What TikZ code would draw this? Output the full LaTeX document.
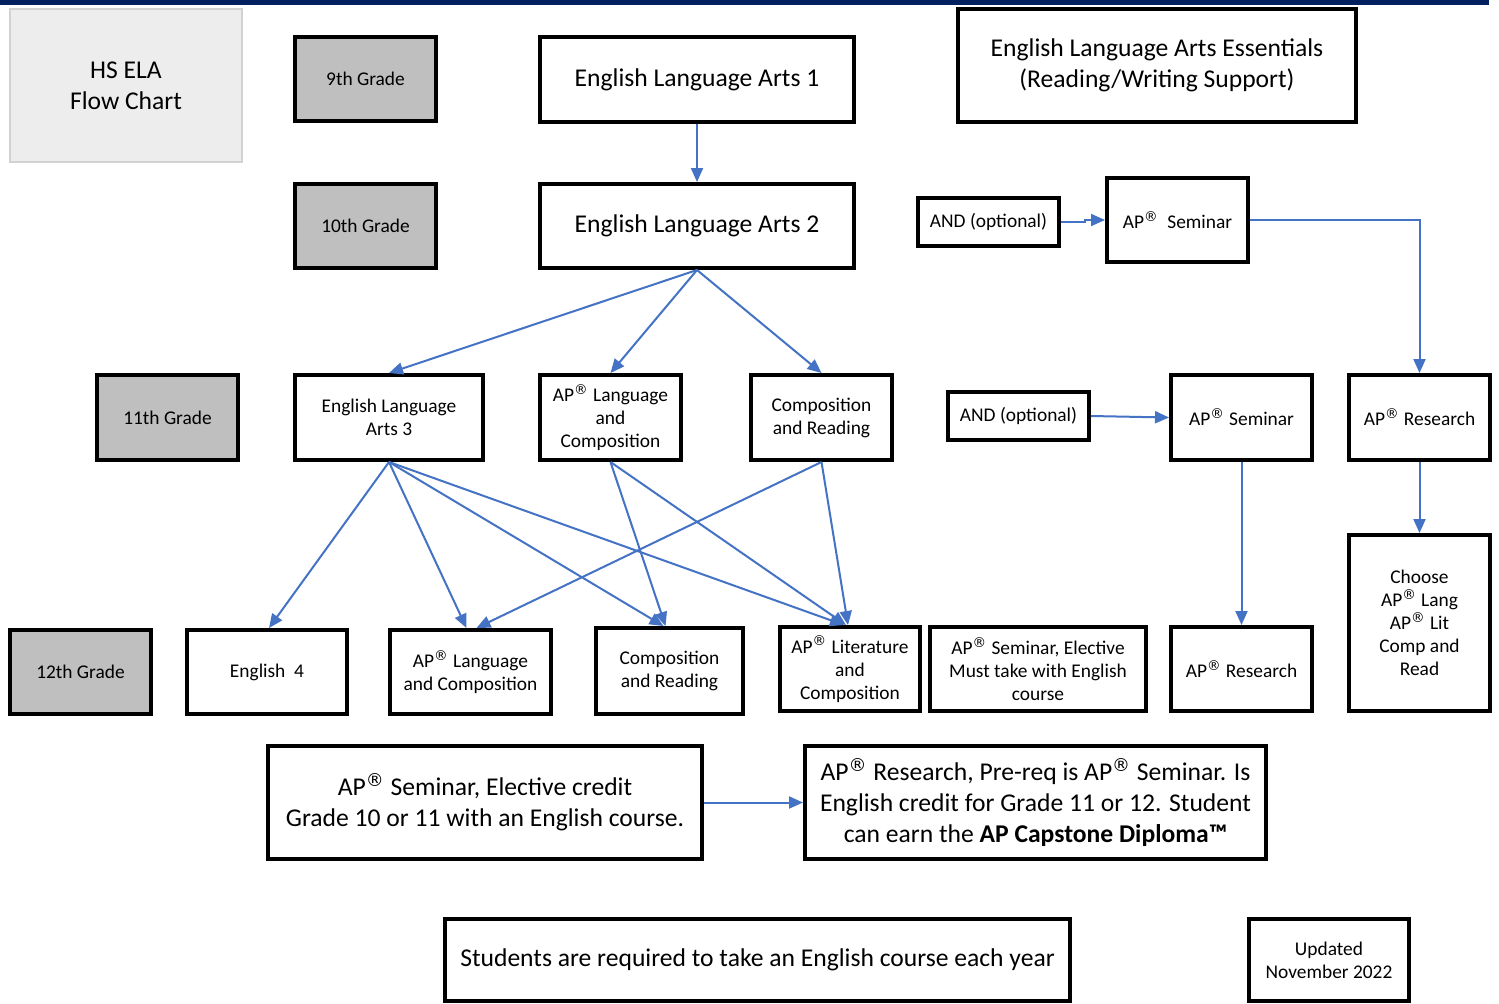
\documentclass[tikz,border=0pt]{standalone}
\usepackage{fontspec}
\setmainfont{Carlito}
\newfontfamily\regfont{DejaVu Sans}
\usetikzlibrary{arrows.meta,calc}
\definecolor{arrowblue}{RGB}{68,114,196}
\definecolor{topnavy}{RGB}{0,32,96}
\definecolor{gradegray}{RGB}{191,191,191}
\definecolor{titlegray}{RGB}{237,237,237}
\definecolor{titleedge}{RGB}{210,210,210}
\newcommand{\reg}{\textsuperscript{\regfont ®}}
\newcommand{\mybox}[7]{\node[#6, minimum width={(#4-#2)*0.5pt}, minimum height={(#5-#3)*0.5pt}] (#1) at ({(#2+#4)/2},{(#3+#5)/2}) {#7};}
\begin{document}
\begin{tikzpicture}[x=0.5pt,y=-0.5pt,
  box/.style={draw=black, line width=2pt, fill=white, inner sep=1pt, align=center},
  gradebox/.style={box, fill=gradegray},
  big/.style={font=\fontsize{12.8}{15.5}\selectfont},
  small/.style={font=\fontsize{9.7}{11.5}\selectfont},
  arr/.style={draw=arrowblue, line width=1pt, -{Triangle[length=7pt,width=6pt]}}]
\useasboundingbox[fill=white] (0,0) rectangle (1499,1003);
\fill[topnavy] (0,0) rectangle (1489,5);

\mybox{title}{10}{9}{242}{162}{draw=titleedge, line width=0.6pt, fill=titlegray, align=center, font=\fontsize{12.8}{15.5}\selectfont}{HS ELA\\Flow Chart}
\mybox{g9}{295}{37}{436}{121}{gradebox, small}{9th Grade}
\mybox{ela1}{540}{37}{854}{122}{box, big}{English Language Arts 1}
\mybox{ess}{958}{9}{1356}{122}{box, big}{English Language Arts Essentials\\(Reading/Writing Support)}

\mybox{g10}{295}{184}{436}{268}{gradebox, small}{10th Grade}
\mybox{ela2}{540}{184}{854}{268}{box, big}{English Language Arts 2}
\mybox{and1}{918}{198}{1059}{246}{box, small}{AND (optional)}
\mybox{sem1}{1107}{178}{1248}{262}{box, small}{AP\reg\ \ Seminar}

\mybox{g11}{97}{375}{238}{460}{gradebox, small}{11th Grade}
\mybox{ela3}{295}{375}{483}{460}{box, small}{English Language\\Arts 3}
\mybox{lang11}{540}{375}{681}{460}{box, small}{AP\reg\ Language\\and\\Composition}
\mybox{comp11}{751}{375}{892}{460}{box, small}{Composition\\and Reading}
\mybox{and2}{948}{392}{1089}{440}{box, small}{AND (optional)}
\mybox{sem2}{1171}{375}{1312}{460}{box, small}{AP\reg\ Seminar}
\mybox{res1}{1349}{375}{1490}{460}{box, small}{AP\reg\ Research}

\mybox{g12}{10}{630}{151}{714}{gradebox, small}{12th Grade}
\mybox{eng4}{187}{630}{347}{714}{box, small}{English\ \ 4}
\mybox{lang12}{390}{630}{551}{714}{box, small}{AP\reg\ Language\\and Composition}
\mybox{comp12}{596}{628}{743}{714}{box, small}{Composition\\and Reading}
\mybox{lit12}{780}{627}{920}{711}{box, small}{AP\reg\ Literature\\and\\Composition}
\mybox{semel}{930}{627}{1146}{711}{box, small}{AP\reg\ Seminar, Elective\\Must take with English\\course}
\mybox{res2}{1171}{627}{1312}{711}{box, small}{AP\reg\ Research}
\mybox{choose}{1349}{535}{1490}{711}{box, small}{Choose\\AP\reg\ Lang\\AP\reg\ Lit\\Comp and\\Read}

\mybox{semcred}{268}{746}{702}{859}{box, big}{AP\reg\ Seminar, Elective credit\\Grade 10 or 11 with an English course.}
\mybox{resreq}{805}{746}{1266}{859}{box, big}{AP\reg\ Research, Pre-req is AP\reg\ Seminar. Is\\English credit for Grade 11 or 12. Student\\can earn the \textbf{AP Capstone Diploma™}}

\mybox{req}{445}{919}{1070}{1001}{box, big}{Students are required to take an English course each year}
\mybox{upd}{1249}{919}{1409}{1001}{box, small}{Updated\\November 2022}

% connectors
\draw[arr] (ela1.south) -- (ela2.north);
\draw[arr] (ela2.south) -- (ela3.north);
\draw[arr] (ela2.south) -- (lang11.north);
\draw[arr] (ela2.south) -- (comp11.north);
\draw[arr] (and1.east) -- ++(24,0) |- (sem1.west);
\draw[arr] (sem1.east) -| (res1.north);
\draw[arr] (and2.east) -- (sem2.west);
\draw[arr] (sem2.south) -- (res2.north);
\draw[arr] (res1.south) -- (choose.north);

\draw[arr] (ela3.south) -- ([xshift=1pt]eng4.north);
\draw[arr] (ela3.south) -- ([xshift=-2pt]lang12.north);
\draw[arr] (ela3.south) -- ([xshift=-3pt]comp12.north);
\draw[arr] (ela3.south) -- ([xshift=-3pt]lit12.north);
\draw[arr] (lang11.south) -- ([xshift=-2pt]comp12.north);
\draw[arr] (lang11.south) -- ([xshift=-2pt]lit12.north);
\draw[arr] (comp11.south) -- ([xshift=3pt]lang12.north);
\draw[arr] (comp11.south) -- ([xshift=-1pt]lit12.north);

\draw[arr] (semcred.east) -- (resreq.west);
\end{tikzpicture}
\end{document}
